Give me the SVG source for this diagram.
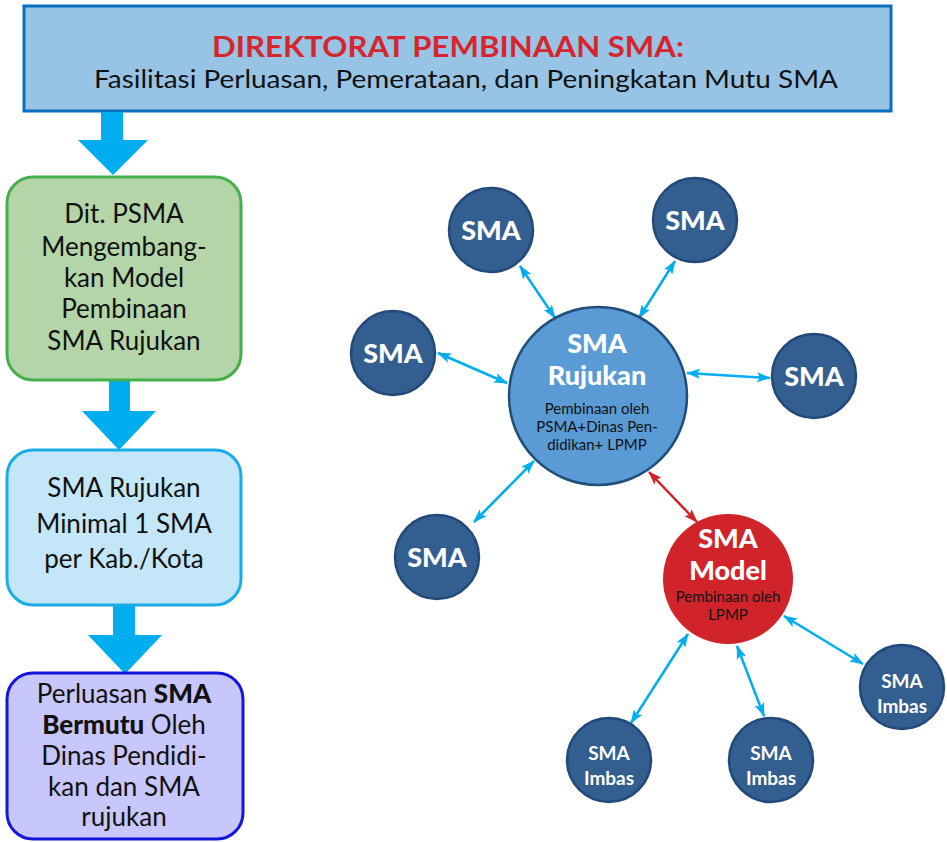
<svg xmlns="http://www.w3.org/2000/svg" width="947" height="842" viewBox="0 0 947 842">
<defs>
<style>
.t{font-family:Lato,"Noto Sans","DejaVu Sans",sans-serif;text-anchor:middle}
.box{font-size:26px;fill:#111}
.sma{fill:#335E90;stroke:#23497A;stroke-width:2.5}
.smat{font-weight:900;fill:#fff;font-size:27px}
.imt{font-weight:700;fill:#fff;font-size:19px}
.sub{font-size:15px;fill:#111}
.blk{fill:#00AEEF}
.cl{stroke:#00AEEF;stroke-width:2.5;fill:none;marker-start:url(#ac);marker-end:url(#ac)}
.rl{stroke:#D0232A;stroke-width:2.5;fill:none;marker-start:url(#ar);marker-end:url(#ar)}
</style>
<marker id="ac" viewBox="0 0 14 10" refX="13" refY="5" markerWidth="14" markerHeight="10" orient="auto-start-reverse" markerUnits="userSpaceOnUse"><path d="M0,0 L14,5 L0,10 L3,5 z" fill="#00AEEF"/></marker>
<marker id="ar" viewBox="0 0 14 10" refX="13" refY="5" markerWidth="14" markerHeight="10" orient="auto-start-reverse" markerUnits="userSpaceOnUse"><path d="M0,0 L14,5 L0,10 L3,5 z" fill="#D0232A"/></marker>
</defs>
<rect width="947" height="842" fill="#fff"/>

<g id="header">
<rect x="24" y="6" width="867" height="105" fill="#97C3E5" stroke="#0A6FC0" stroke-width="3"/>
<text class="t" x="448" y="57" font-size="28" font-weight="700" fill="#D7252D" textLength="472" lengthAdjust="spacingAndGlyphs">DIREKTORAT PEMBINAAN SMA:</text>
<text class="t" x="466" y="88" font-size="25" fill="#111" textLength="744" lengthAdjust="spacingAndGlyphs">Fasilitasi Perluasan, Pemerataan, dan Peningkatan Mutu SMA</text>
</g>

<g id="flow-arrows">
<polygon class="blk" points="101,112 123,112 123,140 148,140 113,175 78,140 101,140"/>
<polygon class="blk" points="109,380 130,380 130,411 156,411 119,450 82,411 109,411"/>
<polygon class="blk" points="113,605 135,605 135,635 162,635 125,674 88,635 113,635"/>
</g>

<g id="box1">
<rect x="7" y="177" width="234" height="203" rx="26" fill="#B3D5A8" stroke="#45B04A" stroke-width="3"/>
<text class="t box"><tspan x="124" y="223">Dit. PSMA</tspan><tspan x="124" y="256">Mengembang-</tspan><tspan x="124" y="287">kan Model</tspan><tspan x="124" y="318">Pembinaan</tspan><tspan x="124" y="350">SMA Rujukan</tspan></text>
</g>

<g id="box2">
<rect x="7" y="450" width="234" height="155" rx="26" fill="#C3E7F8" stroke="#19ACE6" stroke-width="3"/>
<text class="t box"><tspan x="124" y="497">SMA Rujukan</tspan><tspan x="124" y="533">Minimal 1 SMA</tspan><tspan x="124" y="568">per Kab./Kota</tspan></text>
</g>

<g id="box3">
<rect x="7" y="673" width="236" height="166" rx="26" fill="#C7C7FD" stroke="#1515E0" stroke-width="3"/>
<text class="t box"><tspan x="124" y="703">Perluasan <tspan font-weight="900">SMA</tspan></tspan><tspan x="124" y="734"><tspan font-weight="900">Bermutu</tspan> Oleh</tspan><tspan x="124" y="765">Dinas Pendidi-</tspan><tspan x="124" y="796">kan dan SMA</tspan><tspan x="124" y="826">rujukan</tspan></text>
</g>

<g id="connectors">
<line class="cl" x1="520" y1="266" x2="555" y2="318"/>
<line class="cl" x1="675" y1="261" x2="639" y2="318"/>
<line class="cl" x1="438" y1="353" x2="507" y2="383"/>
<line class="cl" x1="687" y1="373" x2="770" y2="378"/>
<line class="cl" x1="534" y1="461" x2="474" y2="522"/>
<line class="rl" x1="649" y1="472" x2="697" y2="522"/>
<line class="cl" x1="688" y1="634" x2="631" y2="723"/>
<line class="cl" x1="737" y1="646" x2="764" y2="716"/>
<line class="cl" x1="784" y1="616" x2="863" y2="664"/>
</g>

<g id="rujukan">
<circle cx="598" cy="396" r="89" fill="#5A9BD6" stroke="#1F4E79" stroke-width="2.5"/>
<text class="t smat" font-size="28"><tspan x="597" y="353">SMA</tspan><tspan x="597" y="385">Rujukan</tspan></text>
<text class="t sub"><tspan x="597" y="414">Pembinaan oleh</tspan><tspan x="597" y="432">PSMA+Dinas Pen-</tspan><tspan x="597" y="450">didikan+ LPMP</tspan></text>
</g>

<g id="sma1"><circle class="sma" cx="491" cy="230" r="42"/><text class="t smat" x="491" y="240">SMA</text></g>
<g id="sma2"><circle class="sma" cx="695" cy="220" r="42"/><text class="t smat" x="695" y="230">SMA</text></g>
<g id="sma3"><circle class="sma" cx="393" cy="353" r="42"/><text class="t smat" x="393" y="363">SMA</text></g>
<g id="sma4"><circle class="sma" cx="814" cy="376" r="42"/><text class="t smat" x="814" y="386">SMA</text></g>
<g id="sma5"><circle class="sma" cx="437" cy="557" r="42"/><text class="t smat" x="437" y="567">SMA</text></g>

<g id="model">
<circle cx="728" cy="579" r="65" fill="#D0232A"/>
<text class="t smat" font-size="27"><tspan x="728" y="548">SMA</tspan><tspan x="728" y="580">Model</tspan></text>
<text class="t sub"><tspan x="728" y="602">Pembinaan oleh</tspan><tspan x="728" y="620">LPMP</tspan></text>
</g>

<g id="imbas1"><circle class="sma" cx="609" cy="760" r="42"/><text class="t imt"><tspan x="609" y="760">SMA</tspan><tspan x="609" y="785">Imbas</tspan></text></g>
<g id="imbas2"><circle class="sma" cx="771" cy="760" r="42"/><text class="t imt"><tspan x="771" y="760">SMA</tspan><tspan x="771" y="785">Imbas</tspan></text></g>
<g id="imbas3"><circle class="sma" cx="902" cy="687" r="42"/><text class="t imt"><tspan x="902" y="688">SMA</tspan><tspan x="902" y="713">Imbas</tspan></text></g>
</svg>
